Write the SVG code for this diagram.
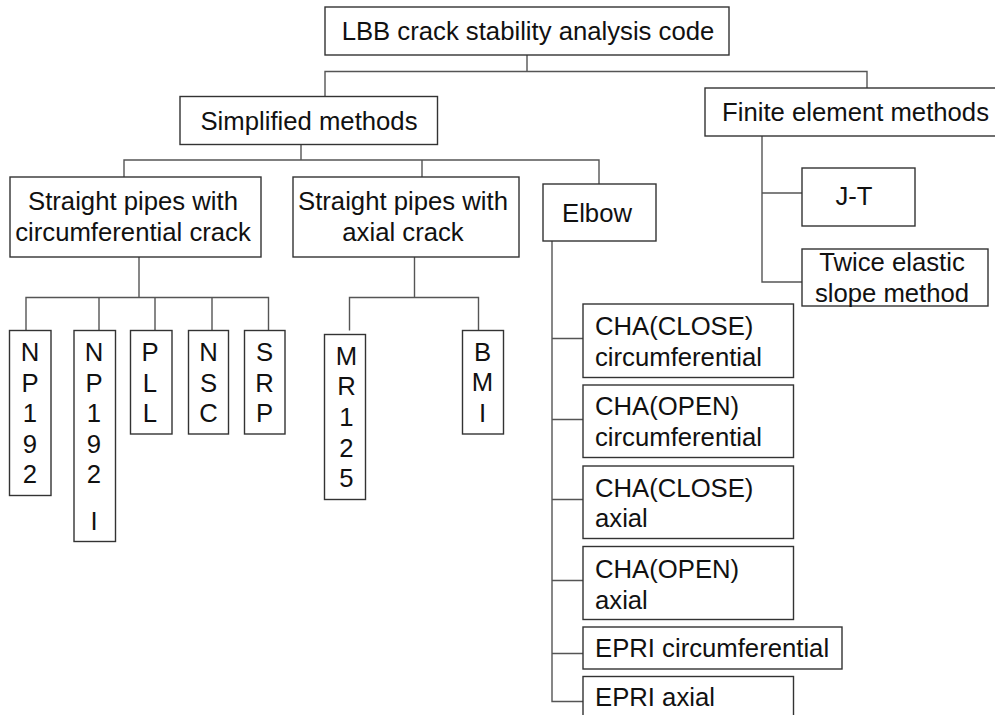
<svg xmlns="http://www.w3.org/2000/svg" width="995" height="715" viewBox="0 0 995 715">
  <style>
    .box { fill: #ffffff; stroke: #333333; stroke-width: 1.4; }
    .link { fill: none; stroke: #555555; stroke-width: 1.4; }
    text { font-family: "Liberation Sans", Arial, sans-serif; font-size: 25.7px; fill: #111111; }
    .c { text-anchor: middle; }
  </style>
  <rect width="995" height="715" fill="#ffffff"/>

  <!-- connectors -->
  <g id="connectors">
    <path class="link" d="M527,55 V71.5 M325,96.5 V71.5 H867 V88"/>
    <path class="link" d="M301,144.5 V160 M124,177 V160 H599 V184 M422,160 V177"/>
    <path class="link" d="M762,136 V282 H802 M762,193 H802"/>
    <path class="link" d="M139,257 V297.5 M26,330.5 V297.5 H268.5 V330.5 M99,297.5 V330.5 M155,297.5 V330.5 M212,297.5 V330.5"/>
    <path class="link" d="M414.5,257 V297.5 M349.5,330.5 V297.5 H478.5 V330.5"/>
    <path class="link" d="M552,241 V701.5 H583 M552,338.5 H583 M552,419.5 H583 M552,499.5 H583 M552,580.5 H583 M552,653.5 H583"/>
  </g>

  <g id="root">
    <rect class="box" x="325" y="7" width="404" height="48"/>
    <text class="c" x="528" y="40">LBB crack stability analysis code</text>
  </g>

  <g id="simplified">
    <rect class="box" x="180" y="96.5" width="257.5" height="48"/>
    <text class="c" x="309" y="130">Simplified methods</text>
  </g>

  <g id="fem">
    <rect class="box" x="705" y="88" width="300" height="48"/>
    <text x="722" y="121">Finite element methods</text>
  </g>

  <g id="straight-circ">
    <rect class="box" x="10" y="177" width="251" height="80"/>
    <text class="c" x="133" y="210">Straight pipes with</text>
    <text class="c" x="133" y="241">circumferential crack</text>
  </g>

  <g id="straight-axial">
    <rect class="box" x="293" y="177" width="226" height="80"/>
    <text class="c" x="403" y="210">Straight pipes with</text>
    <text class="c" x="403" y="241">axial crack</text>
  </g>

  <g id="elbow">
    <rect class="box" x="543" y="184" width="113" height="57"/>
    <text class="c" x="597" y="222">Elbow</text>
  </g>

  <g id="jt">
    <rect class="box" x="802" y="168" width="113" height="58"/>
    <text class="c" x="854" y="205">J-T</text>
  </g>

  <g id="twice-elastic">
    <rect class="box" x="802" y="249" width="186" height="57"/>
    <text class="c" x="892" y="271">Twice elastic</text>
    <text class="c" x="892" y="302">slope method</text>
  </g>

  <!-- vertical-letter leaves -->
  <g id="np192">
    <rect class="box" x="9.5" y="330.5" width="41.5" height="165"/>
    <text class="c" x="30" y="361">N</text>
    <text class="c" x="30" y="391.5">P</text>
    <text class="c" x="30" y="422">1</text>
    <text class="c" x="30" y="452.5">9</text>
    <text class="c" x="30" y="483">2</text>
  </g>

  <g id="np192i">
    <rect class="box" x="74" y="330.5" width="41.5" height="211"/>
    <text class="c" x="94" y="361">N</text>
    <text class="c" x="94" y="391.5">P</text>
    <text class="c" x="94" y="422">1</text>
    <text class="c" x="94" y="452.5">9</text>
    <text class="c" x="94" y="483">2</text>
    <text class="c" x="94" y="530">I</text>
  </g>

  <g id="pll">
    <rect class="box" x="130.5" y="330.5" width="41.5" height="103.5"/>
    <text class="c" x="150" y="361">P</text>
    <text class="c" x="150" y="391.5">L</text>
    <text class="c" x="150" y="422">L</text>
  </g>

  <g id="nsc">
    <rect class="box" x="188.5" y="330.5" width="40" height="103.5"/>
    <text class="c" x="208.5" y="361">N</text>
    <text class="c" x="208.5" y="391.5">S</text>
    <text class="c" x="208.5" y="422">C</text>
  </g>

  <g id="srp">
    <rect class="box" x="244.5" y="330.5" width="40.5" height="103.5"/>
    <text class="c" x="264.5" y="361">S</text>
    <text class="c" x="264.5" y="391.5">R</text>
    <text class="c" x="264.5" y="422">P</text>
  </g>

  <g id="mr125">
    <rect class="box" x="324.5" y="334.5" width="41" height="165"/>
    <text class="c" x="346.5" y="364.5">M</text>
    <text class="c" x="346.5" y="395">R</text>
    <text class="c" x="346.5" y="425.5">1</text>
    <text class="c" x="346.5" y="456.5">2</text>
    <text class="c" x="346.5" y="487">5</text>
  </g>

  <g id="bmi">
    <rect class="box" x="462.5" y="330.5" width="41" height="103.5"/>
    <text class="c" x="482.5" y="361">B</text>
    <text class="c" x="482.5" y="391">M</text>
    <text class="c" x="482.5" y="422">I</text>
  </g>

  <!-- elbow sub-methods -->
  <g id="cha-close-circ">
    <rect class="box" x="583" y="304" width="210.5" height="73.5"/>
    <text x="595" y="335">CHA(CLOSE)</text>
    <text x="595" y="365.5">circumferential</text>
  </g>

  <g id="cha-open-circ">
    <rect class="box" x="583" y="385" width="210.5" height="72.5"/>
    <text x="595" y="415">CHA(OPEN)</text>
    <text x="595" y="445.5">circumferential</text>
  </g>

  <g id="cha-close-axial">
    <rect class="box" x="583" y="466" width="210.5" height="72.5"/>
    <text x="595" y="496.5">CHA(CLOSE)</text>
    <text x="595" y="527">axial</text>
  </g>

  <g id="cha-open-axial">
    <rect class="box" x="583" y="546.5" width="210.5" height="73"/>
    <text x="595" y="577.5">CHA(OPEN)</text>
    <text x="595" y="608.5">axial</text>
  </g>

  <g id="epri-circ">
    <rect class="box" x="583" y="627" width="259" height="42"/>
    <text x="595" y="657">EPRI circumferential</text>
  </g>

  <g id="epri-axial">
    <rect class="box" x="583" y="676.5" width="210.5" height="60"/>
    <text x="595" y="705.5">EPRI axial</text>
  </g>
</svg>
